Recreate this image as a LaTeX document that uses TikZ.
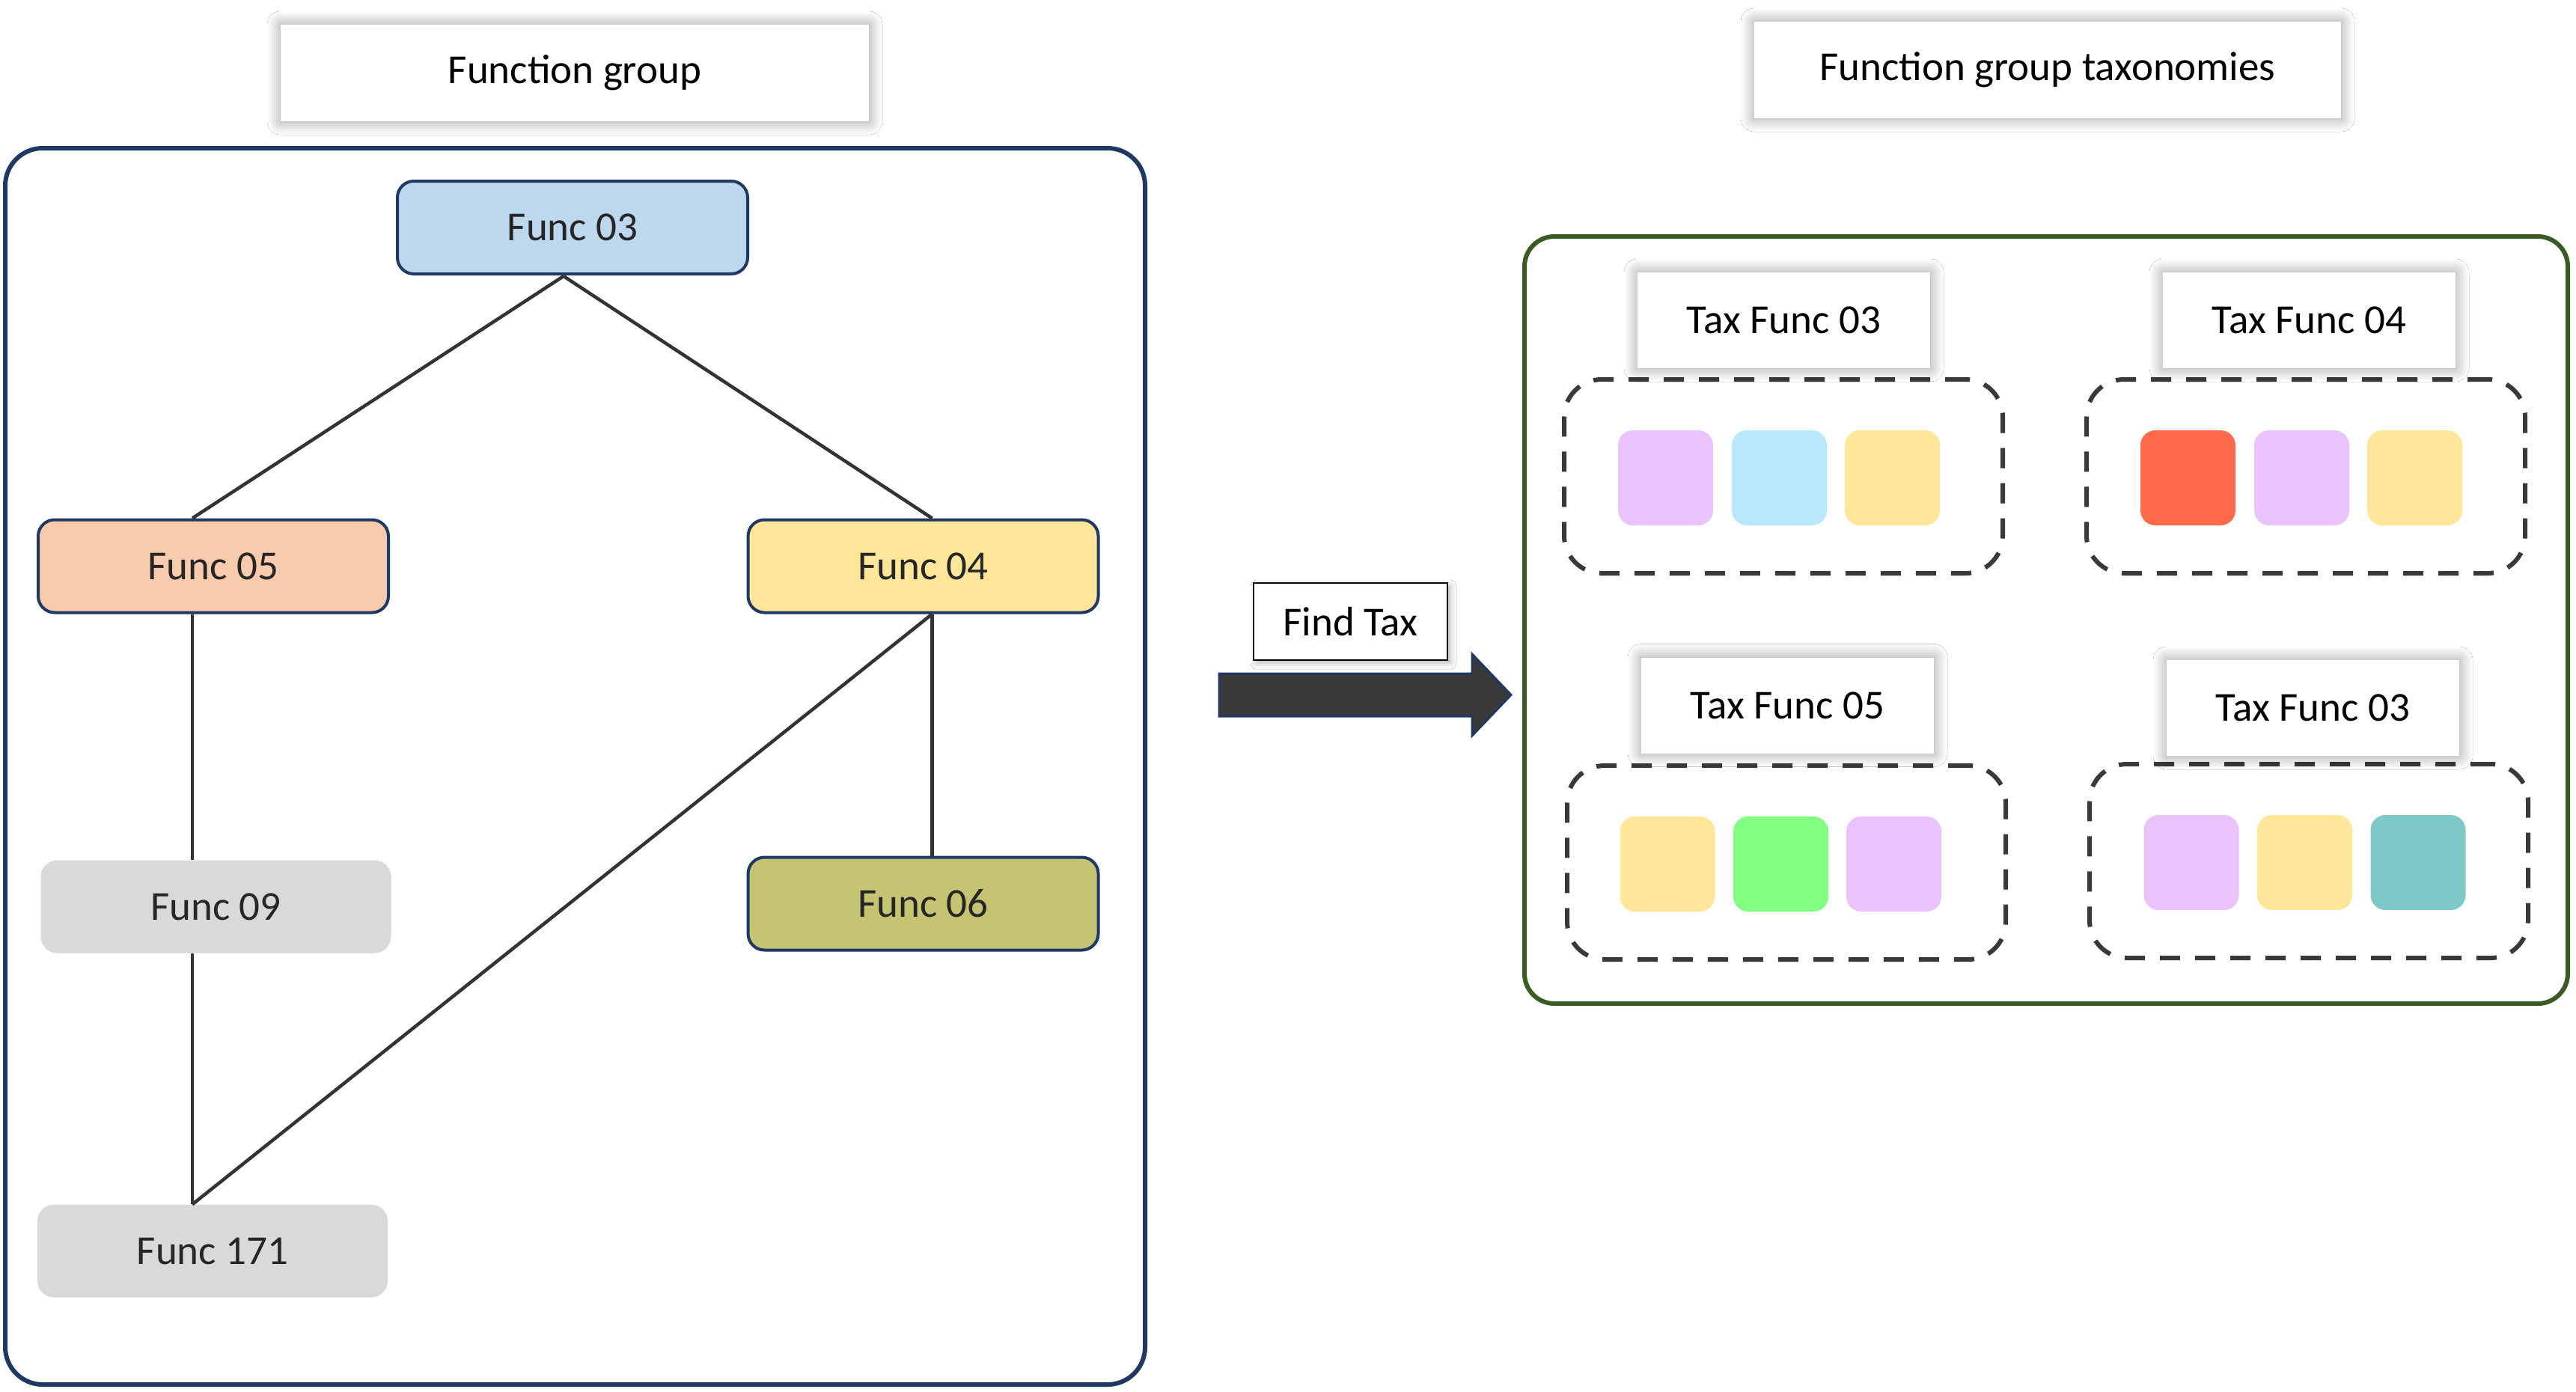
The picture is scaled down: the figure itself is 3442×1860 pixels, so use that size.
\documentclass[tikz,border=0pt]{standalone}
\usepackage{fontspec}
\setmainfont{Carlito}
\usetikzlibrary{shadows.blur}
\definecolor{navy}{HTML}{1F3864}
\definecolor{txt}{HTML}{262626}
\definecolor{c03}{HTML}{BDD7EE}
\definecolor{c05}{HTML}{F8CBAD}
\definecolor{c04}{HTML}{FFE699}
\definecolor{c06}{HTML}{C4C472}
\definecolor{cgray}{HTML}{D9D9D9}
\definecolor{linec}{HTML}{333333}
\definecolor{dashc}{HTML}{3A3838}
\definecolor{gbox}{HTML}{3B5B25}
\definecolor{lav}{HTML}{EAC2FC}
\definecolor{sky}{HTML}{B8E8FC}
\definecolor{yel}{HTML}{FFE699}
\definecolor{tom}{HTML}{FF6A4A}
\definecolor{grn}{HTML}{80FF80}
\definecolor{teal}{HTML}{7FC8C8}
\tikzset{
  fnode/.style={rounded corners=22pt, draw=navy, line width=4pt, minimum width=468pt, minimum height=124pt, text=txt, inner sep=0pt},
  gnode/.style={rounded corners=22pt, fill=cgray, minimum width=468pt, minimum height=124pt, text=txt, inner sep=0pt},
  titlebox/.style={fill=white, inner sep=0pt, blur shadow={shadow xshift=0pt, shadow yshift=0pt, shadow blur radius=18pt, shadow blur steps=20, shadow opacity=40}},
  taxlabel/.style={titlebox, minimum width=391pt, minimum height=128pt},
  dashbox/.style={draw=dashc, line width=6pt, dash pattern=on 27pt off 20pt, rounded corners=50pt, minimum width=586pt, minimum height=259pt, inner sep=0pt},
  sq/.style={rounded corners=20pt, minimum width=127pt, minimum height=127pt, inner sep=0pt},
  link/.style={draw=linec, line width=4.5pt},
}
\begin{document}
\begin{tikzpicture}[x=1pt,y=-1pt, font=\fontsize{55}{64}\selectfont]
\useasboundingbox[fill=white] (0,0) rectangle (3442,1860);

% left container
\node[draw=navy, line width=6pt, rounded corners=50pt, minimum width=1523pt, minimum height=1652pt, inner sep=0pt] (lbox) at (768.5,1024) {};
\node[titlebox, minimum width=786pt, minimum height=129pt] (ltitle) at (768,97.5) {Function group};

% function nodes
\node[fnode, fill=c03] (f03) at (765,304) {Func 03};
\node[fnode, fill=c05] (f05) at (285,756.5) {Func 05};
\node[fnode, fill=c04] (f04) at (1233.5,756.5) {Func 04};
\node[gnode] (f09) at (288.5,1211.5) {Func 09};
\node[fnode, fill=c06] (f06) at (1233.5,1207.5) {Func 06};
\node[gnode] (f171) at (284,1671.5) {Func 171};

% connectors
\draw[link] ([xshift=-12pt,yshift=-1pt]f03.south) -- ([xshift=-28pt]f05.north);
\draw[link] ([xshift=-12pt,yshift=-1pt]f03.south) -- ([xshift=12pt]f04.north);
\draw[link] ([xshift=-28pt]f05.south) -- ([xshift=-31.5pt]f09.north);
\draw[link] ([xshift=-31.5pt]f09.south) -- ([xshift=-27pt]f171.north);
\draw[link] ([xshift=12pt]f04.south) -- ([xshift=-27pt]f171.north);
\draw[link] ([xshift=12pt]f04.south) -- ([xshift=12pt]f06.north);

% find tax
\node[draw=black, line width=2pt, fill=white, minimum width=259pt, minimum height=103pt, inner sep=0pt, blur shadow={shadow xshift=4pt, shadow yshift=-4pt, shadow blur radius=8pt, shadow opacity=30}] (find) at (1804.5,830.5) {Find Tax};
\draw[fill=dashc, draw=navy, line width=3pt, line join=miter] (1629,900) -- (1967,900) -- (1967,874) -- (2019,928.5) -- (1967,983) -- (1967,957) -- (1629,957) -- cycle;

% right container
\node[titlebox, minimum width=784pt, minimum height=129pt] (rtitle) at (2736,93.5) {Function group taxonomies};
\node[draw=gbox, line width=6pt, rounded corners=40pt, minimum width=1394pt, minimum height=1025pt, inner sep=0pt] (rbox) at (2734,828.5) {};

% tax groups
\node[dashbox] (d1) at (2383,636.5) {};
\node[taxlabel] (t1) at (2383.5,428) {Tax Func 03};
\node[sq, fill=lav] (s11) at (2225.5,638.5) {};
\node[sq, fill=sky] (s12) at (2377.5,638.5) {};
\node[sq, fill=yel] (s13) at (2528.5,638.5) {};

\node[dashbox] (d2) at (3081,636.5) {};
\node[taxlabel] (t2) at (3085.5,428) {Tax Func 04};
\node[sq, fill=tom] (s21) at (2923.5,638.5) {};
\node[sq, fill=lav] (s22) at (3075.5,638.5) {};
\node[sq, fill=yel] (s23) at (3226.5,638.5) {};

\node[dashbox] (d3) at (2387,1152.5) {};
\node[taxlabel] (t3) at (2388.5,942.5) {Tax Func 05};
\node[sq, fill=yel] (s31) at (2228,1154.5) {};
\node[sq, fill=grn] (s32) at (2379.5,1154.5) {};
\node[sq, fill=lav] (s33) at (2530.5,1154.5) {};

\node[dashbox] (d4) at (3085,1150.5) {};
\node[taxlabel] (t4) at (3090.5,946) {Tax Func 03};
\node[sq, fill=lav] (s41) at (2928,1152.5) {};
\node[sq, fill=yel] (s42) at (3079.5,1152.5) {};
\node[sq, fill=teal] (s43) at (3231,1152.5) {};
\end{tikzpicture}
\end{document}
